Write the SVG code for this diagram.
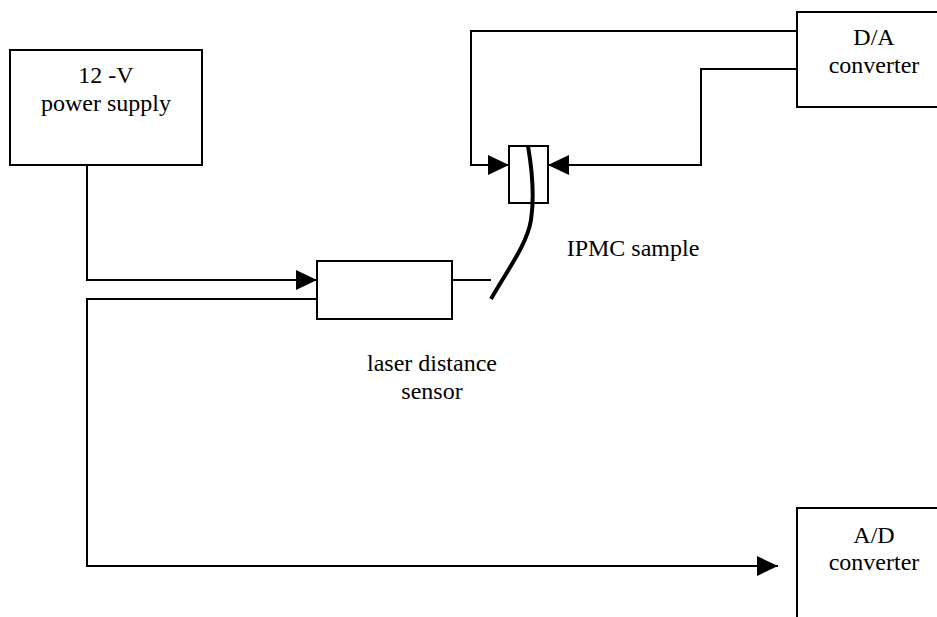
<svg xmlns="http://www.w3.org/2000/svg" width="937" height="617" viewBox="0 0 937 617">
<style>
.b{fill:#fff;stroke:#000;stroke-width:2}
.c{fill:none;stroke:#000;stroke-width:2}
text{font-family:"Liberation Serif","Times New Roman",serif;font-size:24px;fill:#000;text-anchor:middle}
</style>
<defs><marker id="a" markerUnits="userSpaceOnUse" markerWidth="21" markerHeight="20" refX="21" refY="10" orient="auto"><path d="M0 0L21 10L0 20Z" fill="#000"/></marker></defs>
<rect width="937" height="617" fill="#fff"/>
<g id="power-supply"><rect class="b" x="10" y="50" width="192" height="115"/><text x="106" y="83">12 -V</text><text x="106" y="111">power supply</text></g>
<g id="da-converter"><path class="b" d="M940 12H797V107H940"/><text x="874" y="45">D/A</text><text x="874" y="73">converter</text></g>
<g id="ad-converter"><path class="b" d="M940 508H797V620"/><text x="874" y="543">A/D</text><text x="874" y="570">converter</text></g>
<g id="laser-sensor"><rect class="b" x="317" y="261" width="135" height="58"/><text x="432" y="371">laser distance</text><text x="432" y="399">sensor</text></g>
<g id="ipmc-sample"><rect class="b" x="509" y="146" width="39" height="57"/><path d="M528 146C533 175 534 200 531 220C527 245 506 272 491 299" fill="none" stroke="#000" stroke-width="4"/><text x="633" y="256">IPMC sample</text></g>
<g id="connectors">
<path class="c" marker-end="url(#a)" d="M797 31H471V165H509"/>
<path class="c" marker-end="url(#a)" d="M797 69H701V165H548"/>
<path class="c" marker-end="url(#a)" d="M87 165V280H317"/>
<path class="c" marker-end="url(#a)" d="M317 299H87V566H778"/>
<path class="c" d="M452 280H491" stroke-width="1.5"/>
</g>
</svg>
